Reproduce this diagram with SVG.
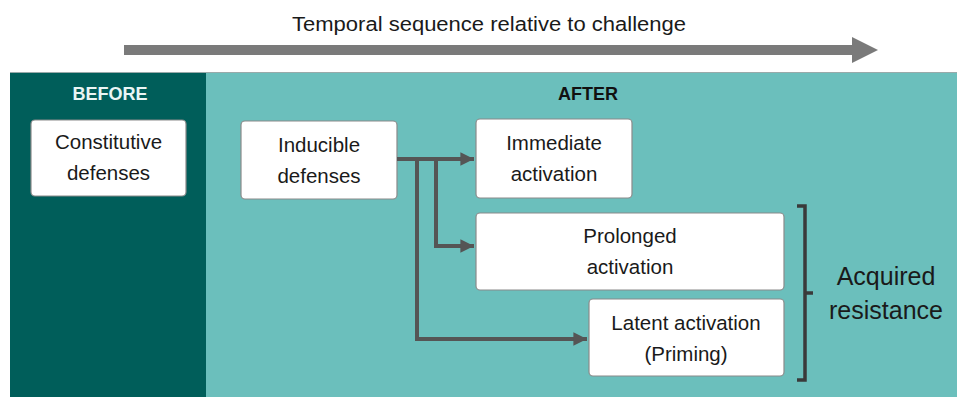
<svg xmlns="http://www.w3.org/2000/svg" width="957" height="397" viewBox="0 0 957 397">
<defs>
<style>
.box{fill:#ffffff;stroke:#8a8a8a;stroke-width:1.2}
.t{font-family:"Liberation Sans",Arial,sans-serif;font-size:20.5px;fill:#1a1a1a;text-anchor:middle}
.h{font-family:"Liberation Sans",Arial,sans-serif;font-size:18px;font-weight:bold;text-anchor:middle}
.c{fill:none;stroke:#555555;stroke-width:4}
</style>
<marker id="ah" viewBox="0 0 10 10" refX="10" refY="5" markerWidth="3.5" markerHeight="3.4" orient="auto" markerUnits="strokeWidth">
<path d="M0,0 L10,5 L0,10 z" fill="#555555"/>
</marker>
</defs>
<rect width="957" height="397" fill="#ffffff"/>
<g id="timeline">
<text x="489" y="31" class="t" style="font-size:20px" textLength="394" lengthAdjust="spacingAndGlyphs">Temporal sequence relative to challenge</text>
<rect x="124" y="45" width="730" height="10" fill="#7a7a7a"/>
<path d="M852,37 L878,50 L852,63 z" fill="#7a7a7a"/>
</g>
<g id="panels">
<rect x="10" y="72" width="196" height="325" fill="#005e5a"/>
<rect x="206" y="72" width="751" height="325" fill="#6bbfbc"/>
<line x1="10" y1="72.5" x2="957" y2="72.5" stroke="#9aa" stroke-width="1"/>
<text x="110" y="100" class="h" fill="#eaf6f5">BEFORE</text>
<text x="588" y="100" class="h" fill="#111">AFTER</text>
</g>
<g id="constitutive">
<rect class="box" x="31" y="120" width="155" height="76" rx="4"/>
<text class="t" x="108.5" y="149">Constitutive</text>
<text class="t" x="108.5" y="180">defenses</text>
</g>
<g id="inducible">
<rect class="box" x="241" y="121" width="156" height="78" rx="4"/>
<text class="t" x="319" y="152">Inducible</text>
<text class="t" x="319" y="183">defenses</text>
</g>
<g id="immediate">
<rect class="box" x="476" y="119" width="156" height="79" rx="4"/>
<text class="t" x="554" y="150">Immediate</text>
<text class="t" x="554" y="181">activation</text>
</g>
<g id="prolonged">
<rect class="box" x="476" y="213" width="308" height="77" rx="4"/>
<text class="t" x="630" y="243">Prolonged</text>
<text class="t" x="630" y="274">activation</text>
</g>
<g id="latent">
<rect class="box" x="589" y="299" width="195" height="77" rx="4"/>
<text class="t" x="686" y="330">Latent activation</text>
<text class="t" x="686" y="361">(Priming)</text>
</g>
<g id="connectors">
<path class="c" d="M397,159 L474,159" marker-end="url(#ah)"/>
<path class="c" d="M436,159 L436,246 L474,246" marker-end="url(#ah)"/>
<path class="c" d="M417,159 L417,339 L587,339" marker-end="url(#ah)"/>
</g>
<g id="bracket">
<path d="M797,206 L805,206 L805,380 L797,380 M805,293 L813,293" fill="none" stroke="#3a3a3a" stroke-width="3.5"/>
<text x="886" y="285" class="t" style="font-size:25px">Acquired</text>
<text x="886" y="319" class="t" style="font-size:25px">resistance</text>
</g>
</svg>
